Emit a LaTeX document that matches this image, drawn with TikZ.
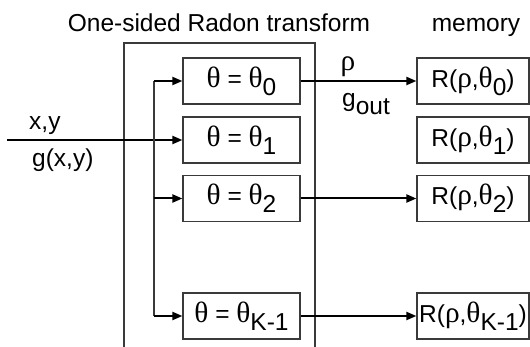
\documentclass[tikz,border=0pt]{standalone}
\usepackage{fontspec}
\setmainfont{Liberation Sans}
\newfontfamily\grkfont[Scale=1.2]{Liberation Serif}
\usetikzlibrary{arrows.meta}
\definecolor{ink}{HTML}{000000}
\definecolor{frame}{HTML}{3A3A3A}
\newcommand\gth{{\grkfont\symbol{"03B8}}}
\newcommand\grho{{\grkfont\symbol{"03C1}}}
\newcommand\lo[1]{\raisebox{-8pt}{#1}}
\tikzset{
  >={Triangle[length=10pt,width=8pt]},
  every node/.style={font=\fontsize{24.5}{28}\selectfont,text=ink,inner sep=0pt},
  angle/.style={draw=frame,line width=1.2pt,minimum width=117pt,minimum height=46pt},
  mem/.style={draw=frame,line width=1.2pt,minimum width=112pt,minimum height=46pt},
  arrow/.style={->,line width=2pt,draw=ink},
  wire/.style={line width=1.3pt,draw=frame},
  title/.style={anchor=base}
}
\begin{document}
\begin{tikzpicture}[x=1pt,y=-1pt]
  \useasboundingbox (0,0) rectangle (530,347);
  \node[title] (radon) at (219,32) {One-sided Radon transform};
  \node[title] (memory) at (476,32) {memory};
  % transform block, open at the bottom
  \draw[wire] (124,347) -- (124,43) -- (315,43) -- (315,347);

  \node[angle] (t0) at (241.5,81) {\gth\ = \gth\lo{0}};
  \node[angle] (t1) at (241.5,140) {\gth\ = \gth\lo{1}};
  \node[angle] (t2) at (241.5,198.5) {\gth\ = \gth\lo{2}};
  \node[angle] (tK) at (241.5,316) {\gth\ = \gth\lo{K-1}};

  \node[mem] (r0) at (473,81) {R(\grho,\gth\lo{0})};
  \node[mem] (r1) at (473,140) {R(\grho,\gth\lo{1})};
  \node[mem] (r2) at (473,198.5) {R(\grho,\gth\lo{2})};
  \node[mem] (rK) at (473,316) {R(\grho,\gth\lo{K-1})};

  \coordinate (in) at (7,140);
  \coordinate (trunk) at (154,0);
  \node[anchor=base west] (xy) at (29,130) {x,y};
  \node[anchor=base west] (gxy) at (32,167) {g(x,y)};
  \draw[arrow] (in) -- (t1.west);

  \draw[wire] (t0.west -| trunk) -- (tK.west -| trunk);
  \foreach \t in {t0,t2,tK}
    \draw[arrow] (\t.west -| trunk) -- (\t.west);

  \draw[arrow] (t0) -- (r0);
  \draw[arrow] (t2) -- (r2);
  \draw[arrow] (tK) -- (rK);
  \node (rho) at (348,67) {\grho};
  \node[anchor=base] (gout) at (366,107) {g\lo{out}};
\end{tikzpicture}
\end{document}
